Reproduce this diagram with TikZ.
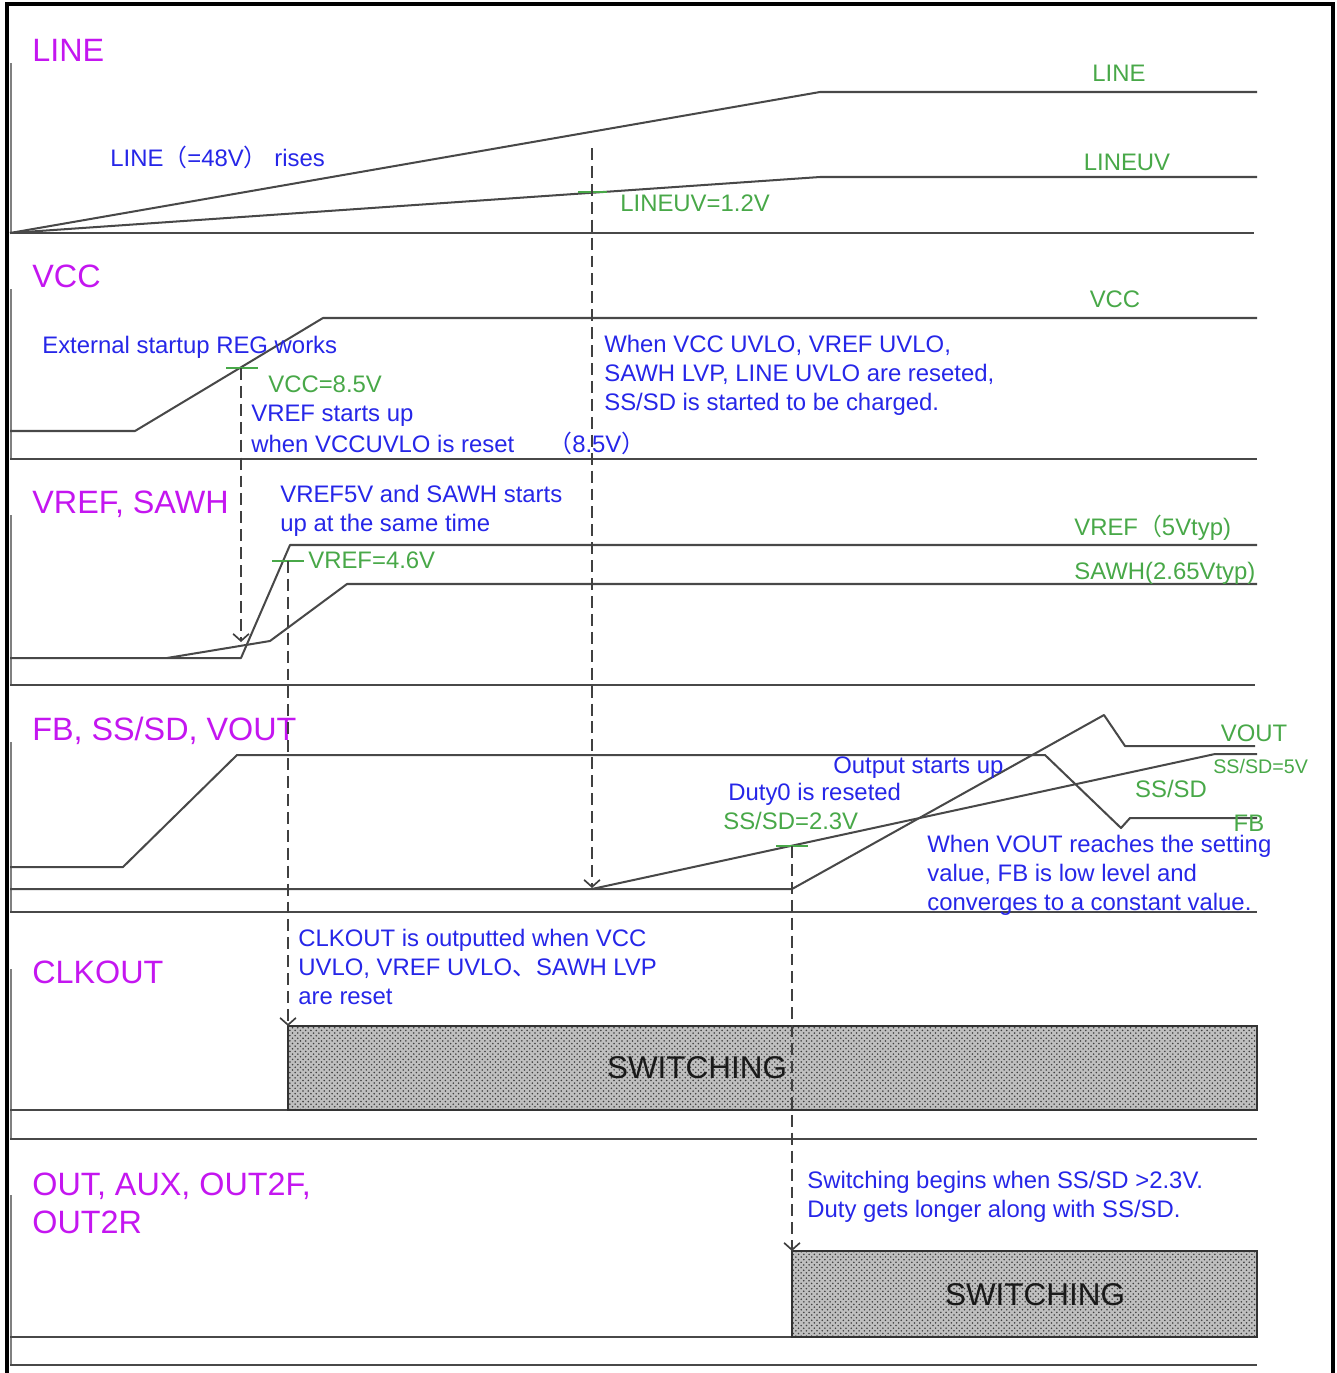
\documentclass[tikz,border=0pt]{standalone}
\usepackage{fontspec}
\setmainfont{Liberation Sans}
\newfontfamily\cjk{Noto Sans CJK SC}
\usepackage{tikz}
\usetikzlibrary{arrows.meta, patterns}
\definecolor{SigViolet}{RGB}{196,22,240}
\definecolor{NoteBlue}{RGB}{38,38,232}
\definecolor{LevelGreen}{RGB}{72,168,72}
\definecolor{WaveGray}{RGB}{72,72,72}

\begin{document}
\begin{tikzpicture}[x=0.02cm,y=-0.02cm,
        sig/.style={text=SigViolet,font=\fontsize{18.4}{21.6}\selectfont,
                    inner sep=0pt,anchor=base west,align=left},
        note/.style={text=NoteBlue,font=\fontsize{13.6}{16.45}\selectfont,
                     inner sep=0pt,anchor=base west,align=left},
        lvl/.style={text=LevelGreen,font=\fontsize{13.6}{16.45}\selectfont,
                    inner sep=0pt,anchor=base},
        wave/.style={draw=WaveGray,line width=1.15pt,line join=round},
        baseln/.style={draw=WaveGray,line width=1.6pt},
        axisln/.style={draw=gray,line width=1.5pt},
        frame/.style={draw=black,line width=2.6pt},
        tickm/.style={draw=LevelGreen,line width=1.1pt},
        guide/.style={draw=black!75,line width=0.95pt,dash pattern=on 6.8pt off 3.4pt,
                      -{Straight Barb[length=4pt,width=9pt]}},
        swbox/.style={draw=black!80,line width=1.2pt,preaction={fill=gray!50},
                      pattern=crosshatch dots,pattern color=black!75},
        swtext/.style={font=\fontsize{17.9}{20}\selectfont,text=black!90}
      ]
        \useasboundingbox (0,0) rectangle (1336,1373);
        \draw[frame] (7,1373) -- (7,4) -- (1333,4) -- (1333,1373);
        % section axes and baselines
        \draw[axisln] (11,63) -- (11,233);
        \draw[axisln] (11,289) -- (11,459);
        \draw[axisln] (11,515) -- (11,685);
        \draw[axisln] (11,742) -- (11,912);
        \draw[axisln] (11,969) -- (11,1139);
        \draw[axisln] (11,1195) -- (11,1365);
        \draw[baseln] (10,233) -- (1254,233);
        \draw[baseln] (10,459) -- (1257,459);
        \draw[baseln] (10,685) -- (1255,685);
        \draw[baseln] (10,912) -- (1257,912);
        \draw[baseln] (10,1139) -- (1257,1139);
        \draw[baseln] (10,1365) -- (1257,1365);
        % signal names
        \node[sig] (lLine) at (32,61) {LINE};
        \node[sig] (lVcc) at (32,287) {VCC};
        \node[sig] (lVref) at (32,513) {VREF, SAWH};
        \node[sig] (lFb) at (32,740) {FB, SS/SD, VOUT};
        \node[sig] (lClk) at (32,983) {CLKOUT};
        \node[sig,anchor=north west] (lOut) at (32,1173) {OUT, AUX, OUT2F,\\OUT2R};
        % waveforms
        \draw[wave] (10,233) -- (820,92) -- (1257,92);
        \draw[wave] (10,233) -- (820,177) -- (1257,177);
        \draw[wave] (10,431) -- (135,431) -- (323,318) -- (1257,318);
        \draw[wave] (10,658) -- (241,658) -- (290,545) -- (1257,545);
        \draw[wave] (167,658) -- (270,641) -- (347,584) -- (1257,584);
        \draw[wave] (10,867) -- (123,867) -- (237,755) -- (1045,755)
                    -- (1121,828) -- (1130,818) -- (1257,818);
        \draw[wave] (10,889) -- (792,889) -- (1104,715) -- (1125,746) -- (1255,746);
        \draw[wave] (592,889) -- (1215,754) -- (1257,754);
        \draw[wave] (10,1110) -- (288,1110);
        \draw[wave] (10,1337) -- (792,1337);
        \path[swbox] (288,1026) rectangle (1257,1110);
        \path[swbox] (792,1251) rectangle (1257,1337);
        \node[swtext] (swClk) at (697,1068) {SWITCHING};
        \node[swtext] (swOut) at (1035,1295) {SWITCHING};
        % threshold marks
        \draw[tickm] (578,192) -- (607,192);
        \draw[tickm] (226,368) -- (258,368);
        \draw[tickm] (272,561) -- (304,561);
        \draw[tickm] (776,846) -- (808,846);
        \coordinate (uvTop) at (592,148);
        \coordinate (ssGo) at (592,888);
        \coordinate (vccTh) at (241,368);
        \coordinate (vrefGo) at (241,642);
        \coordinate (vrefTh) at (288,561);
        \coordinate (clkGo) at (288,1026);
        \coordinate (ssTh) at (792,846);
        \coordinate (outGo) at (792,1251);
        \draw[guide] (uvTop) -- (ssGo);
        \draw[guide] (vccTh) -- (vrefGo);
        \draw[guide] (vrefTh) -- (clkGo);
        \draw[guide] (ssTh) -- (outGo);
        % level labels
        \node[lvl] (gLine) at (1119,81.5) {LINE};
        \node[lvl] (gUv) at (1127,170.5) {LINEUV};
        \node[lvl,anchor=base west] (gUvTh) at (620,211.5) {LINEUV=1.2V};
        \node[lvl] (gVcc) at (1115,307.5) {VCC};
        \node[lvl,anchor=base west] (gVccTh) at (268,392.5) {VCC=8.5V};
        \node[lvl,anchor=base west] (gVrefTh) at (308,568.5) {VREF=4.6V};
        \node[lvl,anchor=base west] (gVref) at (1074,535.5) {VREF{\cjk （}5Vtyp)};
        \node[lvl,anchor=base west] (gSawh) at (1074,579.5) {SAWH(2.65Vtyp)};
        \node[lvl] (gVout) at (1254,741.5) {VOUT};
        \node[lvl,anchor=base west,font=\fontsize{11.2}{13}\selectfont] (gSs5) at (1213,773) {SS/SD=5V};
        \node[lvl] (gSs) at (1171,797.5) {SS/SD};
        \node[lvl] (gFb) at (1249,831) {FB};
        \node[lvl,anchor=base west] (gSsTh) at (723,829.5) {SS/SD=2.3V};
        % notes
        \node[note] (nRise) at (110,166.5) {LINE{\cjk （}=48V{\cjk ）} rises};
        \node[note] (nReg) at (42,353.5) {External startup REG works};
        \node[note] (nVref) at (251,421.5) {VREF starts up};
        \node[note] (nUvlo) at (251,452.5) {when VCCUVLO is reset};
        \node[note] (nVal) at (548,452.5) {{\cjk （}8.5V{\cjk ）}};
        \node[note,anchor=north west] (nReset) at (604,335) {When VCC UVLO, VREF UVLO,\\SAWH LVP, LINE UVLO are reseted,\\SS/SD is started to be charged.};
        \node[note,anchor=north west] (nSame) at (280,485) {VREF5V and SAWH starts\\up at the same time};
        \node[note] (nOut) at (833,773.5) {Output starts up};
        \node[note] (nDuty) at (728,800.5) {Duty0 is reseted};
        \node[note,anchor=north west] (nConv) at (927,835) {When VOUT reaches the setting\\value, FB is low level and\\converges to a constant value.};
        \node[note,anchor=north west] (nClk) at (298,929) {CLKOUT is outputted when VCC\\UVLO, VREF UVLO{\cjk 、}SAWH LVP\\are reset};
        \node[note,anchor=north west] (nSw) at (807,1171) {Switching begins when SS/SD >2.3V.\\Duty gets longer along with SS/SD.};
      \end{tikzpicture}
\end{document}
